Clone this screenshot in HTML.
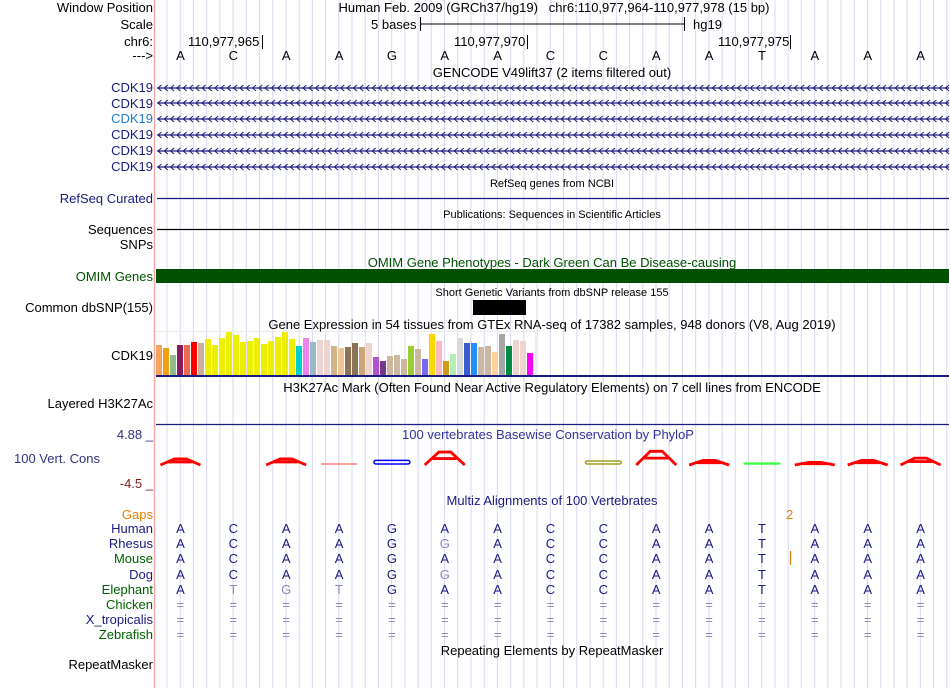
<!DOCTYPE html>
<html><head><meta charset="utf-8">
<style>
body{margin:0;background:#fff;}
#root{position:relative;width:950px;height:688px;overflow:hidden;font-family:"Liberation Sans",Arial,sans-serif;font-size:13px;color:#000;}
.l{position:absolute;right:797px;white-space:nowrap;line-height:15px;}
.t{position:absolute;white-space:nowrap;line-height:15px;transform:translateX(-50%);}
.s{font-size:11px;}
svg{position:absolute;left:0;top:0;}
</style></head><body>
<div id="root">
<svg id="grid" width="950" height="688"></svg>

<div class="l" style="top:0px">Window Position</div>
<div class="l" style="top:17px">Scale</div>
<div class="l" style="top:34px">chr6:</div>
<div class="l" style="top:48px">---&gt;</div>
<div class="t" style="left:554px;top:0px">Human Feb. 2009 (GRCh37/hg19)&nbsp;&nbsp; chr6:110,977,964-110,977,978 (15 bp)</div>
<div style="position:absolute;left:371px;top:17px;line-height:15px">5 bases</div>
<div style="position:absolute;left:693px;top:17px;line-height:15px">hg19</div>
<div style="position:absolute;left:188px;top:34px;line-height:15px">110,977,965</div>
<div style="position:absolute;left:454px;top:34px;line-height:15px">110,977,970</div>
<div style="position:absolute;left:718px;top:34px;line-height:15px">110,977,975</div>
<div class="t" style="left:552px;top:65px">GENCODE V49lift37 (2 items filtered out)</div>

<div class="l" style="top:80px;color:#1a1a80">CDK19</div>
<div class="l" style="top:96px;color:#1a1a80">CDK19</div>
<div class="l" style="top:111px;color:#1f7fd0">CDK19</div>
<div class="l" style="top:127px;color:#1a1a80">CDK19</div>
<div class="l" style="top:143px;color:#1a1a80">CDK19</div>
<div class="l" style="top:159px;color:#1a1a80">CDK19</div>

<div class="t s" style="left:552px;top:177px">RefSeq genes from NCBI</div>
<div class="l" style="top:191px;color:#1a1a80">RefSeq Curated</div>
<div class="t s" style="left:552px;top:208px">Publications: Sequences in Scientific Articles</div>
<div class="l" style="top:222px">Sequences</div>
<div class="l" style="top:237px">SNPs</div>
<div class="t" style="left:552px;top:255px;color:#005000">OMIM Gene Phenotypes - Dark Green Can Be Disease-causing</div>
<div class="l" style="top:269px;color:#005000">OMIM Genes</div>
<div class="t s" style="left:552px;top:286px">Short Genetic Variants from dbSNP release 155</div>
<div class="l" style="top:300px">Common dbSNP(155)</div>
<div class="t" style="left:552px;top:317px">Gene Expression in 54 tissues from GTEx RNA-seq of 17382 samples, 948 donors (V8, Aug 2019)</div>
<div class="l" style="top:348px">CDK19</div>
<div class="t" style="left:552px;top:380px">H3K27Ac Mark (Often Found Near Active Regulatory Elements) on 7 cell lines from ENCODE</div>
<div class="l" style="top:396px">Layered H3K27Ac</div>
<div class="l" style="top:427px;color:#333380">4.88 _</div>
<div class="t" style="left:548px;top:427px;color:#333399">100 vertebrates Basewise Conservation by PhyloP</div>
<div class="l" style="top:451px;right:850px;color:#333380">100 Vert. Cons</div>
<div class="l" style="top:476px;color:#802020">-4.5 _</div>
<div class="t" style="left:552px;top:493px;color:#1a1a80">Multiz Alignments of 100 Vertebrates</div>
<div class="l" style="top:507px;color:#e08000">Gaps</div>
<div style="position:absolute;left:786px;top:507px;line-height:15px;color:#e08000">2</div>
<div class="t" style="left:552px;top:643px">Repeating Elements by RepeatMasker</div>
<div class="l" style="top:657px">RepeatMasker</div>
</div>
<script>
const bases=["A","C","A","A","G","A","A","C","C","A","A","T","A","A","A"];
const species=["Human","Rhesus","Mouse","Dog","Elephant","Chicken","X_tropicalis","Zebrafish"];
const speciesColors=["#1a1a80","#1a1a80","#006000","#1a1a80","#006000","#006000","#1a1a80","#006000"];
const rhesusSeq=["A","C","A","A","G","g","A","C","C","A","A","T","A","A","A"];
const elephantSeq=["A","t","g","t","G","A","A","C","C","A","A","T","A","A","A"];
const gtexHeights=[30,27,20,30,30,33,32,36,30,37,43,40,33,34,37,31,34,38,44,36,29,37,33,35,35,29,27,28,32,28,32,18,14,19,20,16,29,26,16,41,34,14,21,37,32,32,28,29,23,41,29,35,34,22];
const gtexColors=["#f4a460","#f0a010","#8fbc8f","#8b1a5a","#ee6a50","#ff0000","#c8b09a","#eeee00","#eeee00","#eeee00","#eeee00","#eeee00","#eeee00","#eeee00","#eeee00","#eeee00","#eeee00","#eeee00","#eeee00","#eeee00","#00cdcd","#ee82ee","#9ab8c8","#eed5d2","#eed5d2","#d2b48c","#eec590","#8b7355","#8b7355","#cda577","#eed5d2","#b452cd","#7a378b","#cdb79e","#cdb79e","#cdb79e","#9acd32","#cdb79e","#7b68ee","#ffd700","#ffb6c1","#cd9b1d","#b4eeb4","#d9d9d9","#3a5fcd","#1e90ff","#cdb79e","#cdb79e","#ffd39b","#a6a6a6","#008b45","#eed5d2","#eed5d2","#ff00ff"];
const consValues=[1.6,0,1.6,0.1,-1.2,3.4,0,0,-1.0,3.6,1.2,-0.3,0.7,1.2,1.8];

const NS="http://www.w3.org/2000/svg";
const svg=document.getElementById('grid');
const X0=154,X1=947,BW=(X1-X0)/bases.length;
const bx=i=>X0+BW*(i+0.5);
function mk(tag,attrs,parent){const e=document.createElementNS(NS,tag);for(const k in attrs)e.setAttribute(k,attrs[k]);(parent||svg).appendChild(e);return e;}
for(let x=167;x<950;x+=BW/4){const g=mk('line',{x1:x,y1:0,x2:x,y2:688,stroke:'#d8d8f4','stroke-width':1});

}
let e=mk('line',{x1:154.5,y1:0,x2:154.5,y2:688,stroke:'#f4a8a8','stroke-width':1.5});


mk('line',{x1:420,y1:24,x2:684,y2:24,stroke:'#000'});
mk('line',{x1:420.5,y1:17,x2:420.5,y2:31,stroke:'#000'});
mk('line',{x1:684.5,y1:17,x2:684.5,y2:31,stroke:'#000'});
[262,527,790].forEach(x=>mk('line',{x1:x+.5,y1:35,x2:x+.5,y2:49,stroke:'#000'}));
const root=document.getElementById('root');
function txt(x,y,s,color,name){const d=document.createElement('div');d.className='t';d.style.left=x+'px';d.style.top=y+'px';if(color)d.style.color=color;d.textContent=s;


root.appendChild(d);}
bases.forEach((b,i)=>txt(bx(i),48,b,null,'base-'+(i+1)));
[88,103,119,135,151,167].forEach((y,k)=>{const g=mk('line',{x1:157,y1:y,x2:949,y2:y,stroke:'#1a1a80','stroke-width':1.2});


for(let x=158;x<946;x+=6.3){mk('polyline',{points:`${x+3.5},${y-3} ${x},${y} ${x+3.5},${y+3}`,fill:'none',stroke:'#1a1a80','stroke-width':1});}});
mk('line',{x1:157,y1:198.5,x2:949,y2:198.5,stroke:'#1a1a80','stroke-width':1.2});
mk('line',{x1:157,y1:229.5,x2:949,y2:229.5,stroke:'#000','stroke-width':1.2});
e=mk('rect',{x:156,y:269,width:793,height:14,fill:'#005000'});


e=mk('rect',{x:473,y:300,width:53,height:15,fill:'#000'});


const base=375,bw=7,scaleH=1;
gtexHeights.forEach((h,i)=>{const r=mk('rect',{x:156+i*bw,y:base-h*scaleH,width:bw-1,height:h*scaleH,fill:gtexColors[i]});

});
mk('line',{x1:156,y1:331.5,x2:535,y2:331.5,stroke:'#ececec'});
mk('line',{x1:535.5,y1:331,x2:535.5,y2:375,stroke:'#ececec'});
mk('rect',{x:156,y:375,width:793,height:2,fill:'#1a1a80'});
mk('line',{x1:156,y1:424.5,x2:949,y2:424.5,stroke:'#1a1a80','stroke-width':1.2});
const cy=465,ck=3.8;
consValues.forEach((v,i)=>{const cx=bx(i);let el;
if(v>0.3){const h=v*ck;el=mk('path',{d:`M${cx-20},${cy} L${cx-6},${cy-h} L${cx+6},${cy-h} L${cx+20},${cy} M${cx-12},${cy-h/2} L${cx+12},${cy-h/2}`,fill:'none',stroke:'#ff0000','stroke-width':2.8});}
else if(v>0){el=mk('line',{x1:cx-18,y1:cy-1,x2:cx+18,y2:cy-1,stroke:'#ff8080','stroke-width':1.5});}
else if(v<0){const c=i===4?'#0000ff':(i===8?'#a0a020':'#40ff40');const h=-v*3;
el=mk('rect',{x:cx-18,y:cy-h-1,width:36,height:h,rx:2,fill:'none',stroke:c,'stroke-width':1.5});}
if(el){
}});
const rows=[529,544,559,575,590,605,620,635];
species.forEach((s,r)=>{const d=document.createElement('div');d.className='l';d.style.top=(rows[r]-8)+'px';d.style.color=speciesColors[r];d.textContent=s;


root.appendChild(d);
bases.forEach((b,i)=>{let ch=b,col='#1a1a80';
if(r===1||r===3){ch=rhesusSeq[i];}
if(r===4){ch=elephantSeq[i];}
if(r>=5){ch='=';col='#8888bb';}
if(ch!==ch.toUpperCase()){ch=ch.toUpperCase();col='#8888bb';}
txt(bx(i),rows[r]-8,ch,col,'align-base');});});
mk('line',{x1:790.5,y1:551,x2:790.5,y2:565,stroke:'#e08000','stroke-width':1.2});
</script>
</body></html>
